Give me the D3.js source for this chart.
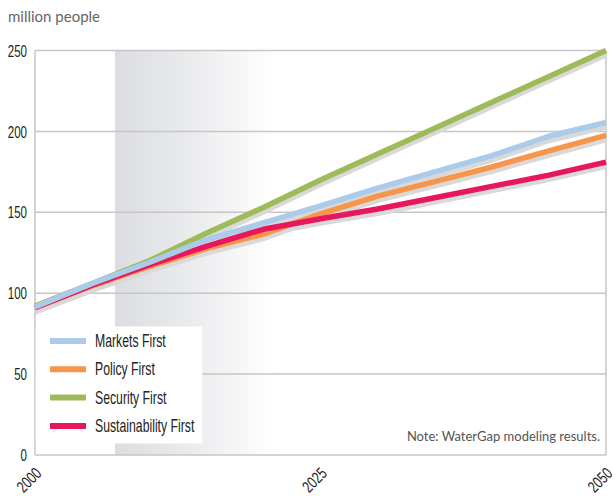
<!DOCTYPE html>
<html><head><meta charset="utf-8">
<script src="https://cdn.jsdelivr.net/npm/d3@7"></script>
<style>
body{margin:0;background:#fff;}
svg{display:block;}
</style></head><body>
<svg id="c" width="616" height="496"></svg>
<script>
const years = [2000,2005,2010,2015,2020,2025,2030,2035,2040,2045,2050];
const marketsFirst = [91.5,106,119,133,143.5,154,165,175,185,197,205.5];
const policyFirst = [91,104.5,116.5,127.5,136.5,149,160,169,178,188,197.5];
const securityFirst = [92,106,120,137,153,170,186,202,218,234,250];
const sustainabilityFirst = [91,105,117.5,129,139.5,146,152,159,166,173,181];
const seriesNames = ["Markets First","Policy First","Security First","Sustainability First"];
const seriesColors = ["#abcbea","#f7964a","#9dbb59","#e8175d"];
const yTicks = [0,50,100,150,200,250];
const xTicks = [2000,2025,2050];
const bandYears = [2007,2021];

const series = [marketsFirst,policyFirst,securityFirst,sustainabilityFirst];
const COND = "'Liberation Sans', Arial, sans-serif";
const SQ = 0.72;
const svg = d3.select("#c");
const L=35,R=606,T=50.5,B=455;
const x = d3.scaleLinear().domain([2000,2050]).range([L,R]);
const y = d3.scaleLinear().domain([0,250]).range([B,T]);

const defs = svg.append("defs");
const g = defs.append("linearGradient").attr("id","band").attr("x1","0").attr("x2","1").attr("y1","0").attr("y2","0");
g.append("stop").attr("offset","0").attr("stop-color","#dcdde0");
g.append("stop").attr("offset","0.5").attr("stop-color","#ebecee");
g.append("stop").attr("offset","1").attr("stop-color","#ffffff");
svg.append("rect").attr("x",x(bandYears[0])).attr("y",T).attr("width",x(bandYears[1])-x(bandYears[0])).attr("height",B-T).attr("fill","url(#band)");

// gridlines
svg.append("g").selectAll("line").data(yTicks.filter(d=>d>0)).join("line")
  .attr("x1",L).attr("x2",R).attr("y1",d=>y(d)).attr("y2",d=>y(d))
  .attr("stroke","#c6c6c6").attr("stroke-width",1.5);
// frame
svg.append("line").attr("x1",L).attr("x2",L).attr("y1",T).attr("y2",B).attr("stroke","#c6c6c6").attr("stroke-width",1.5);
svg.append("line").attr("x1",R).attr("x2",R).attr("y1",T).attr("y2",B).attr("stroke","#c6c6c6").attr("stroke-width",1.5);
svg.append("line").attr("x1",L).attr("x2",R).attr("y1",B).attr("y2",B).attr("stroke","#c6c6c6").attr("stroke-width",1.5);

// y axis labels
const yAxis = d3.axisLeft(y).tickValues(yTicks).tickSize(0).tickPadding(0);
const ya = svg.append("g").attr("transform",`translate(${L},0)`).call(yAxis);
ya.select(".domain").remove();
ya.selectAll("text").attr("font-family",COND).attr("font-size",16).attr("fill","#222")
  .attr("x",0).attr("dy","0.35em").attr("transform",`translate(-8,0) scale(${SQ},1)`);

// x axis labels
const xAxis = d3.axisBottom(x).tickValues(xTicks).tickFormat(d3.format("d")).tickSize(0).tickPadding(0);
const xa = svg.append("g").attr("transform",`translate(0,${B})`).call(xAxis);
xa.select(".domain").remove();
xa.selectAll("text").attr("font-family",COND).attr("font-size",16.5).attr("fill","#222")
  .attr("text-anchor","middle").attr("dy","0.35em").attr("y",0).attr("x",0)
  .attr("transform",`translate(-6.5,25) rotate(-45) scale(0.73,1)`);

const line = d3.line().x((d,i)=>x(years[i])).y(d=>y(d));
// shadows
svg.append("g").selectAll("path").data(series).join("path")
  .attr("d",line).attr("fill","none").attr("stroke","#d9d9d9").attr("stroke-width",6)
  .attr("transform","translate(0,4)");
// lines
const order=[1,3,2,0];
svg.append("g").selectAll("path").data(order).join("path")
  .attr("d",i=>line(series[i])).attr("fill","none").attr("stroke",i=>seriesColors[i]).attr("stroke-width",5.5)
  .attr("stroke-linejoin","round");

// legend
svg.append("rect").attr("x",L+0.75).attr("y",326.5).attr("width",166.5).attr("height",117).attr("fill","#fff");
const lg = svg.append("g").selectAll("g").data(seriesNames).join("g")
  .attr("transform",(d,i)=>`translate(50,${341+i*28.3})`);
lg.append("line").attr("x1",0).attr("x2",36).attr("y1",0).attr("y2",0)
  .attr("stroke",(d,i)=>seriesColors[i]).attr("stroke-width",6);
lg.append("text").attr("font-family",COND).attr("font-size",17.5).attr("fill","#222")
  .attr("transform",`translate(45,6) scale(0.7,1)`).text(d=>d);

svg.append("text").attr("x",600).attr("y",441).attr("text-anchor","end")
  .attr("font-family","Lato, 'Open Sans', sans-serif").attr("font-size",13).attr("fill","#555")
  .text("Note: WaterGap modeling results.");
svg.append("text").attr("x",8).attr("y",22)
  .attr("font-family","Lato, 'Open Sans', sans-serif").attr("font-size",15).attr("fill","#666")
  .text("million people");
</script></body></html>
